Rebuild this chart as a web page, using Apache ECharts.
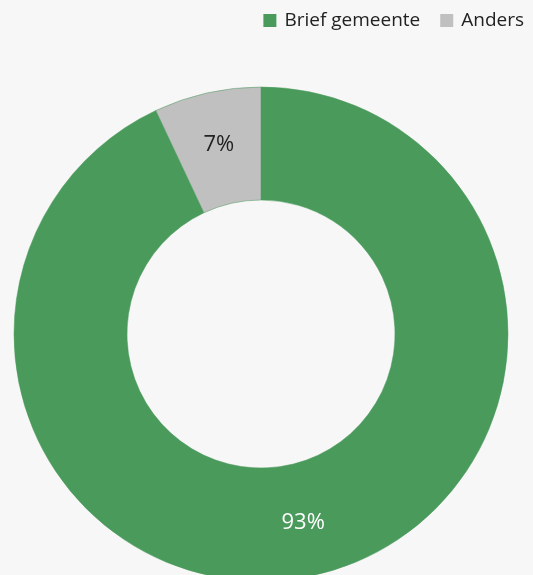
<!DOCTYPE html>
<html>
<head>
<meta charset="utf-8">
<script src="https://cdn.jsdelivr.net/npm/echarts@6/dist/echarts.min.js"></script>
<style>
  * { margin: 0; padding: 0; box-sizing: border-box; }
  html, body { width: 533px; height: 575px; background: #f7f7f7; overflow: hidden; }
  #chart { width: 533px; height: 575px; }
</style>
</head>
<body>
<div id="chart"></div>
<script>
  const categories = ['Brief gemeente', 'Anders'];
  const values = [93, 7];
  const colors = ['#4a9a5c', '#c0c0c0'];

  const myChart = echarts.init(document.getElementById('chart'));
  const option = {
    backgroundColor: '#f7f7f7',
    color: colors,
    legend: {
      data: categories,
      right: 4,
      top: 6,
      itemWidth: 13,
      itemHeight: 13,
      itemGap: 20,
      icon: 'rect',
      itemStyle: { borderWidth: 0 },
      textStyle: { fontFamily: 'Open Sans', fontSize: 19, color: '#222', padding: [0, 0, 0, 3] }
    },
    series: [{
      type: 'pie',
      center: [261, 334],
      radius: [134, 247],
      startAngle: 90,
      clockwise: true,
      silent: true,
      itemStyle: { borderColor: '#4a9a5c', borderWidth: 0.5 },
      label: {
        position: 'inside',
        formatter: '{c}%',
        fontFamily: 'Open Sans',
        fontSize: 22
      },
      labelLine: { show: false },
      data: categories.map((name, i) => ({
        name: name,
        value: values[i],
        label: { color: i === 0 ? '#ffffff' : '#222222' }
      }))
    }]
  };
  myChart.setOption(option);
</script>
</body>
</html>
